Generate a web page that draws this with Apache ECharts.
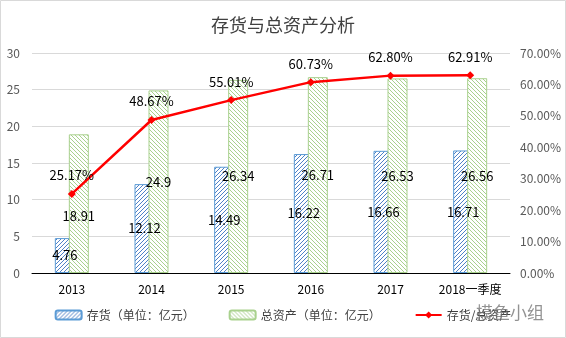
<!DOCTYPE html>
<html>
<head>
<meta charset="utf-8">
<script src="https://cdn.jsdelivr.net/npm/echarts@6/dist/echarts.min.js"></script>
<style>
  html, body { margin: 0; padding: 0; background: #fff; }
  #chart { width: 566px; height: 338px; }
</style>
</head>
<body>
<div id="chart"></div>
<script>
// Inventory vs. total assets, 2013 – Q1 2018
const categories = ['2013', '2014', '2015', '2016', '2017', '2018一季度'];
const inventory = [4.76, 12.12, 14.49, 16.22, 16.66, 16.71];      // 亿元
const totalAssets = [18.91, 24.9, 26.34, 26.71, 26.53, 26.56];    // 亿元
const ratio = [25.17, 48.67, 55.01, 60.73, 62.80, 62.91];         // %

const FONT = '"Noto Sans CJK SC", "Noto Sans", sans-serif';

// diagonal hatch tile used as bar fill
function hatch(color, forward) {
  const s = 4;
  const c = document.createElement('canvas');
  c.width = s; c.height = s;
  const g = c.getContext('2d');
  g.fillStyle = '#fff';
  g.fillRect(0, 0, s, s);
  g.strokeStyle = color;
  g.lineWidth = 1;
  g.beginPath();
  if (forward) {
    g.moveTo(-1, s + 1); g.lineTo(s + 1, -1);
    g.moveTo(-1, 1); g.lineTo(1, -1);
    g.moveTo(s - 1, s + 1); g.lineTo(s + 1, s - 1);
  } else {
    g.moveTo(-1, -1); g.lineTo(s + 1, s + 1);
    g.moveTo(s - 1, -1); g.lineTo(s + 1, 1);
    g.moveTo(-1, s - 1); g.lineTo(1, s + 1);
  }
  g.stroke();
  return { image: c, repeat: 'repeat' };
}

const chart = echarts.init(document.getElementById('chart'));

chart.setOption({
  animation: false,
  textStyle: { fontFamily: FONT },
  title: {
    text: '存货与总资产分析',
    left: 'center',
    top: 11,
    textStyle: { fontSize: 18, fontWeight: 'normal', color: '#404040', fontFamily: FONT }
  },
  legend: {
    bottom: 12,
    left: 'center',
    itemWidth: 26,
    itemHeight: 9,
    itemGap: 34,
    textStyle: { fontSize: 12, color: '#404040', fontFamily: FONT },
    data: ['存货（单位：亿元）', '总资产（单位：亿元）', '存货/总资产']
  },
  grid: { left: 32, right: 56, top: 53, bottom: 65 },
  xAxis: {
    type: 'category',
    data: categories,
    axisLine: { lineStyle: { color: '#000', width: 1 } },
    axisTick: { show: false },
    axisLabel: { color: '#000', fontSize: 12, margin: 10, interval: 0, fontFamily: FONT }
  },
  yAxis: [
    {
      type: 'value', min: 0, max: 30, interval: 5,
      axisLine: { show: false }, axisTick: { show: false },
      axisLabel: { color: '#595959', fontSize: 12, margin: 12 },
      splitLine: { lineStyle: { color: '#d9d9d9' } }
    },
    {
      type: 'value', min: 0, max: 70, interval: 10,
      axisLine: { show: false }, axisTick: { show: false },
      axisLabel: { color: '#595959', fontSize: 12, margin: 10,
                   formatter: v => v.toFixed(2) + '%' },
      splitLine: { show: false }
    }
  ],
  series: [
    {
      name: '存货（单位：亿元）',
      type: 'bar',
      data: inventory,
      barWidth: 20,
      barGap: '-30%',
      itemStyle: { color: hatch('#4f81c7', true), borderColor: '#5b9bd5', borderWidth: 1 },
      label: { show: true, position: 'inside', color: '#000', fontSize: 13 }
    },
    {
      name: '总资产（单位：亿元）',
      type: 'bar',
      data: totalAssets.map((v, i) => i === 0 ? { value: v, label: { offset: [0, 12] } } : v),
      barWidth: 20,
      itemStyle: { color: hatch('#a9d18e', false), borderColor: '#a9d18e', borderWidth: 1 },
      label: { show: true, position: 'inside', color: '#000', fontSize: 13 }
    },
    {
      name: '存货/总资产',
      type: 'line',
      yAxisIndex: 1,
      data: ratio,
      symbol: 'diamond',
      symbolSize: 8,
      z: 5,
      lineStyle: { color: '#ff0000', width: 2.5 },
      itemStyle: { color: '#ff0000' },
      label: { show: true, position: 'top', distance: 8, color: '#000', fontSize: 13,
               formatter: p => p.value.toFixed(2) + '%' }
    }
  ],
  graphic: [
    {
      type: 'rect', z: -1,
      shape: { x: 0.5, y: 0.5, width: 565, height: 337 },
      style: { fill: 'none', stroke: '#d9d9d9', lineWidth: 1 }
    },
    {
      type: 'text', left: 476, top: 304, z: 10,
      style: { text: '摸鱼小组', font: '17px ' + FONT, fill: 'rgba(110,110,110,0.75)' }
    }
  ]
});
</script>
</body>
</html>
